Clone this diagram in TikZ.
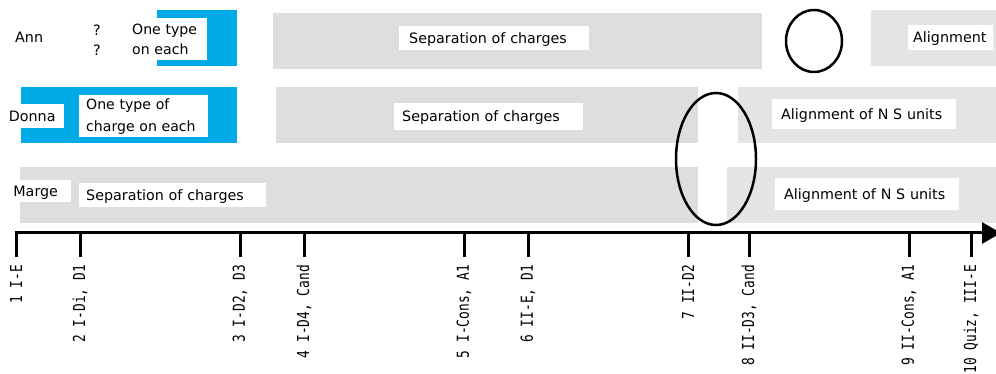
\documentclass[tikz,border=0pt]{standalone}
\usepackage{fontspec}
\setmainfont{DejaVu Sans}
\newfontfamily\stampfont[FakeStretch=0.78]{DejaVu Sans Mono}
\usetikzlibrary{arrows.meta}
\definecolor{barfill}{HTML}{DEDEDE}
\definecolor{barlight}{HTML}{E4E4E4}
\definecolor{cardblue}{RGB}{0,170,230}

\begin{document}
\begin{tikzpicture}[x=1pt,y=-1pt,
  tag/.style={fill=white,inner ysep=0pt,align=left,anchor=north west,text height=10.3pt,text depth=0pt,font=\fontsize{14.3}{20}\selectfont},
  pair/.style={fill=white,inner ysep=0pt,align=left,anchor=north west},
  whobox/.style={fill=white,inner sep=0pt,anchor=north west,text height=10.3pt,text depth=0pt,font=\fontsize{14.3}{17}\selectfont},
  stamp/.style={rotate=90,anchor=east,inner sep=0pt,font=\stampfont\fontsize{16.5}{18}\selectfont},
  ring/.style={line width=2.5pt}]
\useasboundingbox (0,0) rectangle (996,374);

% Ann
\fill[cardblue] (157,10) rectangle (237,66);
\fill[barfill] (273,13) rectangle (762,69);
\fill[barlight] (871,10) rectangle (996,66);
\node[anchor=west,inner sep=0pt,font=\fontsize{14.3}{17}\selectfont] (ann) at (15,37) {Ann};
\node[inner sep=0pt,font=\fontsize{14.3}{17}\selectfont] (q1) at (97,30) {?};
\node[inner sep=0pt,font=\fontsize{14.3}{17}\selectfont] (q2) at (97,50) {?};
\node[pair,text width=70pt,inner xsep=5pt,minimum height=42pt,font=\fontsize{14.1}{20}\selectfont] (anntype) at (127,18) {One type\\on each};
\node[tag,text width=170pt,inner xsep=10pt,minimum height=24pt] (annsep) at (399,26) {Separation of charges};
\node[tag,text width=75pt,inner xsep=5pt,minimum height=25pt] (annalign) at (908,25) {Alignment};

% Donna
\fill[cardblue] (21,87) rectangle (237,143);
\fill[barfill] (276,87) rectangle (698,143);
\fill[barlight] (738,87) rectangle (996,143);
\node[whobox,minimum width=64pt,minimum height=24pt] (donna) at (0,104) {Donna};
\node[pair,text width=115pt,inner xsep=7pt,minimum height=42pt,font=\fontsize{14.1}{22}\selectfont] (donnatype) at (79,95) {One type of\\charge on each};
\node[tag,text width=173pt,inner xsep=8pt,minimum height=27pt] (donnasep) at (394,103) {Separation of charges};
\node[tag,text width=166pt,inner xsep=9pt,minimum height=30pt] (donnaalign) at (772,99) {Alignment of N S units};

% Marge
\fill[barfill] (20,167) rectangle (698,223);
\fill[barlight] (727,167) rectangle (996,223);
\node[whobox,minimum width=71pt,minimum height=22pt] (marge) at (0,180) {Marge};
\node[tag,text width=173pt,inner xsep=7pt,minimum height=24pt] (margesep) at (79,183) {Separation of charges};
\node[tag,text width=166pt,inner xsep=9pt,minimum height=32pt] (margealign) at (775,178) {Alignment of N S units};

\draw[ring] (814,41) ellipse [x radius=28pt,y radius=31pt];
\draw[ring] (716,159) ellipse [x radius=40pt,y radius=66pt];

% time line
\coordinate (axstart) at (14.5,233);
\coordinate (axend) at (1001,233);
\draw[line width=3pt,-{Triangle[length=19pt,width=21pt]}] (axstart) -- (axend);
\foreach \x/\txt [count=\i] in {16/{1 I-E},80/{2 I-Di, D1},240/{3 I-D2, D3},304/{4 I-D4, Cand},
  464/{5 I-Cons, A1},528/{6 II-E, D1},688/{7 II-D2},749/{8 II-D3, Cand},909/{9 II-Cons, A1},971/{10 Quiz, III-E}}{
  \coordinate (k\i) at (\x,233);
  \draw[line width=3pt] (k\i) -- ++(0,24);
  \node[stamp] (s\i) at (\x,265) {\txt};
}
\end{tikzpicture}
\end{document}
